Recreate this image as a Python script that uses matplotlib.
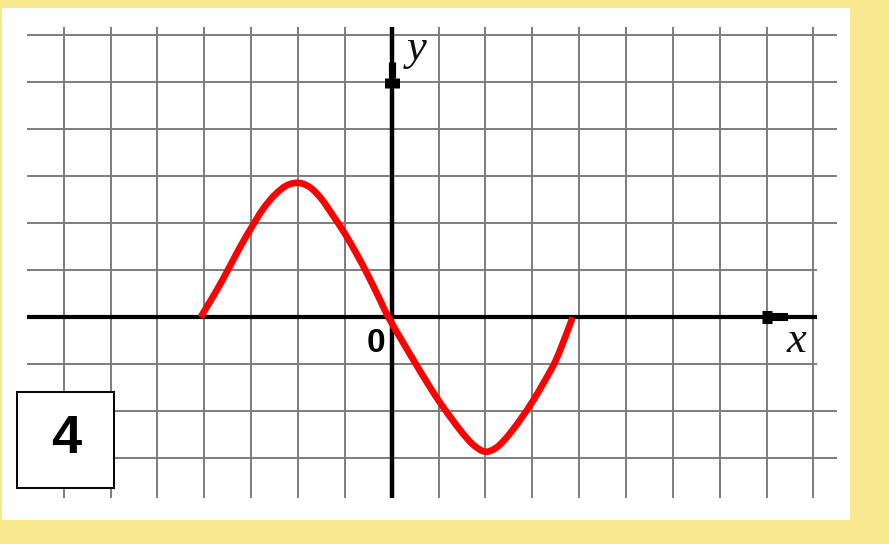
import matplotlib
matplotlib.use('Agg')
import matplotlib.pyplot as plt
from matplotlib.patches import Rectangle, PathPatch
from matplotlib.path import Path

# ---- data (grid units) ----
curve_x = [-4.08, -3.75, -3.5, -3.25, -3.0, -2.75, -2.5, -2.25, -2.0, -1.75, -1.5, -1.25,
           -1.0, -0.75, -0.5, -0.25, -0.07, 0.25, 0.5, 0.75, 1.0, 1.25, 1.5, 1.75,
           2.0, 2.25, 2.5, 2.75, 3.0, 3.25, 3.5, 3.75, 3.86]
curve_y = [0.0, 0.55, 1.0, 1.47, 1.9, 2.3, 2.6, 2.8, 2.86, 2.77, 2.52, 2.16,
           1.78, 1.35, 0.88, 0.37, 0.0, -0.55, -0.97, -1.38, -1.77, -2.12, -2.45, -2.72,
           -2.86, -2.76, -2.5, -2.17, -1.8, -1.38, -0.92, -0.3, 0.0]
grid_x = list(range(-7, 10))
grid_y = list(range(-3, 7))
panel_label = "4"
origin_label = "0"
x_label = "x"
y_label = "y"

# ---- layout helpers (pixel -> grid units) ----
W, H = 889, 544
X0, SX = 391.7, 46.85
Y0, SY = 317.3, 47.0


def px2x(p):
    return (p - X0) / SX


def py2y(p):
    return (Y0 - p) / SY


fig = plt.figure(figsize=(W / 100, H / 100), dpi=100, facecolor='#F8E88E')
ax = fig.add_axes([2 / W, (H - 520) / H, 848 / W, 512 / H])
ax.set_facecolor('white')
for s in ax.spines.values():
    s.set_visible(False)
ax.set_xticks([])
ax.set_yticks([])
ax.set_xlim(px2x(2), px2x(850))
ax.set_ylim(py2y(520), py2y(8))

grid_col = '#7d7d7d'
grid_lw = 1.4
top, bottom = py2y(26.7), py2y(498.3)
left = px2x(26.7)
for gx in grid_x:
    if gx == 0:
        continue
    ax.plot([gx, gx], [bottom, top], color=grid_col, lw=grid_lw, solid_capstyle='butt', zorder=1)
for gy in grid_y:
    if gy == 0:
        continue
    right = px2x(816.7) if abs(gy) == 1 else px2x(836.7)
    ax.plot([left, right], [gy, gy], color=grid_col, lw=grid_lw, solid_capstyle='butt', zorder=1)

# axes
ax.plot([left, px2x(816.7)], [0, 0], color='black', lw=3.0, solid_capstyle='butt', zorder=3)
ax.plot([0, 0], [bottom, top], color='black', lw=3.2, solid_capstyle='butt', zorder=3)
# arrow heads (blocky as in the reference)
ax.plot([0, 0], [py2y(78.3), py2y(61.7)], color='black', lw=5.2, solid_capstyle='butt', zorder=3)
ax.plot([0, 0], [py2y(87.5), py2y(78.3)], color='black', lw=10.8, solid_capstyle='butt', zorder=3)
ax.plot([px2x(771.7), px2x(788.3)], [0, 0], color='black', lw=5.8, solid_capstyle='butt', zorder=3)
ax.plot([px2x(761.7), px2x(771.7)], [0, 0], color='black', lw=9.4, solid_capstyle='butt', zorder=3)

# curve: smooth Bezier path through the read points (Catmull-Rom handles)
pts = list(zip(curve_x, curve_y))
verts = [pts[0]]
codes = [Path.MOVETO]
n = len(pts)
for i in range(n - 1):
    p0 = pts[i - 1] if i > 0 else pts[i]
    p1 = pts[i]
    p2 = pts[i + 1]
    p3 = pts[i + 2] if i + 2 < n else pts[i + 1]
    c1 = (p1[0] + (p2[0] - p0[0]) / 6, p1[1] + (p2[1] - p0[1]) / 6)
    c2 = (p2[0] - (p3[0] - p1[0]) / 6, p2[1] - (p3[1] - p1[1]) / 6)
    verts += [c1, c2, p2]
    codes += [Path.CURVE4] * 3
ax.add_patch(PathPatch(Path(verts, codes), facecolor='none', edgecolor='#FF0000', lw=4.8,
                       joinstyle='round', capstyle='butt', zorder=5))

# labels
ax.text(px2x(417), py2y(60), y_label, family='Liberation Serif', style='italic',
        fontsize=32, ha='center', va='baseline', color='#111111', zorder=6)
ax.text(px2x(796), py2y(352), x_label, family='Liberation Serif', style='italic',
        fontsize=32, ha='center', va='baseline', color='#111111', zorder=6)
ax.text(px2x(376), py2y(351.7), origin_label, family=['Liberation Sans Narrow', 'Liberation Sans'],
        fontweight='bold', fontsize=24, ha='center', va='baseline', color='black', zorder=6)

# numbered box
ax.add_patch(Rectangle((px2x(17.3), py2y(488.3)), (114.3 - 17.3) / SX, (488.3 - 391.7) / SY,
                       facecolor='white', edgecolor='black', lw=1.4, zorder=6))
ax.text(px2x(65.8), py2y(452.7), panel_label, family='Liberation Sans', fontweight='bold',
        fontsize=39, ha='center', va='baseline', color='black', zorder=7)

fig.savefig('out.png', dpi=100, facecolor=fig.get_facecolor())
